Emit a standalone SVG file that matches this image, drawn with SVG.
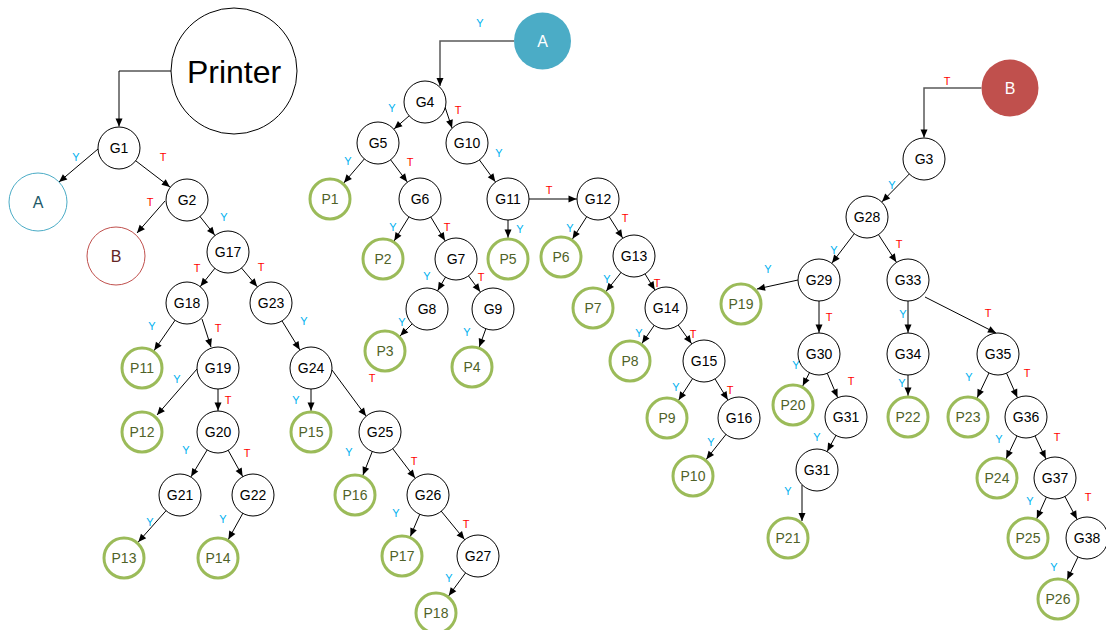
<svg xmlns="http://www.w3.org/2000/svg" width="1106" height="630" viewBox="0 0 1106 630">
<style>
  .g circle { fill: #fff; stroke: #000; stroke-width: 1; }
  .p circle { fill: #fff; stroke: #9bbb59; stroke-width: 3; }
  text { font-family: "Liberation Sans", Arial, sans-serif; text-anchor: middle; }
  .g text { font-size: 14px; fill: #000; }
  .p text { font-size: 14px; fill: #4f6228; }
  .lbl { font-size: 11px; }
  .y { fill: #00b0f0; }
  .t { fill: #ff0000; }
  #edges line, #edges path { stroke: #000; stroke-width: 1; fill: none; }
  #edges .elbow { stroke: #595959; stroke-width: 1.5; }
</style>
<defs>
  <!-- tip at the end point -->
  <marker id="ah" markerUnits="userSpaceOnUse" markerWidth="10" markerHeight="10" orient="auto" overflow="visible">
    <path d="M-8,-3.5 L0,0 L-8,3.5 Z" fill="#000"/>
  </marker>
  <!-- tip on the rim of a radius-21 node when the line ends at its centre -->
  <marker id="ah21" markerUnits="userSpaceOnUse" markerWidth="10" markerHeight="10" orient="auto" overflow="visible">
    <path d="M-29.5,-3.5 L-21.5,0 L-29.5,3.5 Z" fill="#000"/>
  </marker>
</defs>

<g id="edges">
  <!-- elbow connectors from the entry nodes -->
  <path d="M171,71 H119 V126.5" marker-end="url(#ah)"/>
  <path class="elbow" d="M514,41 H440 V86" marker-end="url(#ah)"/>
  <path class="elbow" d="M981.5,88 H924 V137.5" marker-end="url(#ah)"/>

  <!-- Printer subtree -->
  <line x1="98" y1="149" x2="59" y2="182" marker-end="url(#ah)"/>
  <line x1="119" y1="148" x2="187" y2="200" marker-end="url(#ah21)"/>
  <line x1="165" y1="201" x2="137" y2="233" marker-end="url(#ah)"/>
  <line x1="187" y1="200" x2="228" y2="252" marker-end="url(#ah21)"/>
  <line x1="228" y1="252" x2="187" y2="303" marker-end="url(#ah21)"/>
  <line x1="228" y1="252" x2="271" y2="303" marker-end="url(#ah21)"/>
  <line x1="187" y1="303" x2="142" y2="368" marker-end="url(#ah21)"/>
  <line x1="202" y1="319" x2="211" y2="347" marker-end="url(#ah)"/>
  <line x1="197" y1="369" x2="157" y2="415" marker-end="url(#ah)"/>
  <line x1="218" y1="368" x2="218" y2="432" marker-end="url(#ah21)"/>
  <line x1="218" y1="432" x2="180" y2="495" marker-end="url(#ah21)"/>
  <line x1="218" y1="432" x2="253" y2="495" marker-end="url(#ah21)"/>
  <line x1="180" y1="495" x2="124" y2="558" marker-end="url(#ah21)"/>
  <line x1="253" y1="495" x2="218" y2="558" marker-end="url(#ah21)"/>
  <line x1="271" y1="303" x2="311" y2="368" marker-end="url(#ah21)"/>
  <line x1="311" y1="368" x2="311" y2="432" marker-end="url(#ah21)"/>
  <line x1="332" y1="370" x2="366" y2="416" marker-end="url(#ah)"/>
  <line x1="380" y1="432" x2="355" y2="495" marker-end="url(#ah21)"/>
  <line x1="380" y1="432" x2="428" y2="495" marker-end="url(#ah21)"/>
  <line x1="428" y1="495" x2="402" y2="556" marker-end="url(#ah21)"/>
  <line x1="428" y1="495" x2="478" y2="556" marker-end="url(#ah21)"/>
  <line x1="478" y1="556" x2="436" y2="613" marker-end="url(#ah21)"/>

  <!-- A subtree -->
  <line x1="425" y1="102" x2="378" y2="143" marker-end="url(#ah21)"/>
  <line x1="445" y1="107" x2="452" y2="128" marker-end="url(#ah)"/>
  <line x1="378" y1="143" x2="330" y2="199" marker-end="url(#ah21)"/>
  <line x1="378" y1="143" x2="420" y2="199" marker-end="url(#ah21)"/>
  <line x1="467" y1="143" x2="508" y2="199" marker-end="url(#ah21)"/>
  <line x1="420" y1="199" x2="383" y2="259" marker-end="url(#ah21)"/>
  <line x1="420" y1="199" x2="456" y2="259" marker-end="url(#ah21)"/>
  <line x1="508" y1="199" x2="508" y2="259" marker-end="url(#ah21)"/>
  <line x1="508" y1="199" x2="598" y2="199" marker-end="url(#ah21)"/>
  <line x1="598" y1="199" x2="561" y2="257" marker-end="url(#ah21)"/>
  <line x1="598" y1="199" x2="634" y2="256" marker-end="url(#ah21)"/>
  <line x1="456" y1="259" x2="427" y2="309" marker-end="url(#ah21)"/>
  <line x1="456" y1="259" x2="493" y2="309" marker-end="url(#ah21)"/>
  <line x1="427" y1="309" x2="385" y2="351" marker-end="url(#ah21)"/>
  <line x1="493" y1="309" x2="472" y2="367" marker-end="url(#ah21)"/>
  <line x1="634" y1="256" x2="593" y2="308" marker-end="url(#ah21)"/>
  <line x1="634" y1="256" x2="666" y2="308" marker-end="url(#ah21)"/>
  <line x1="666" y1="308" x2="630" y2="361" marker-end="url(#ah21)"/>
  <line x1="666" y1="308" x2="704" y2="361" marker-end="url(#ah21)"/>
  <line x1="704" y1="361" x2="667" y2="418" marker-end="url(#ah21)"/>
  <line x1="704" y1="361" x2="739" y2="418" marker-end="url(#ah21)"/>
  <line x1="739" y1="418" x2="693" y2="476" marker-end="url(#ah21)"/>

  <!-- B subtree -->
  <line x1="924" y1="159" x2="867" y2="217" marker-end="url(#ah21)"/>
  <line x1="867" y1="217" x2="819" y2="280" marker-end="url(#ah21)"/>
  <line x1="867" y1="217" x2="908" y2="280" marker-end="url(#ah21)"/>
  <line x1="798" y1="280" x2="757" y2="289" marker-end="url(#ah)"/>
  <line x1="819" y1="280" x2="819" y2="354" marker-end="url(#ah21)"/>
  <line x1="908" y1="280" x2="908" y2="354" marker-end="url(#ah21)"/>
  <line x1="925" y1="297" x2="996" y2="333" marker-end="url(#ah)"/>
  <line x1="819" y1="354" x2="793" y2="405" marker-end="url(#ah21)"/>
  <line x1="819" y1="354" x2="846" y2="417" marker-end="url(#ah21)"/>
  <line x1="846" y1="417" x2="817" y2="470" marker-end="url(#ah21)"/>
  <line x1="802" y1="485" x2="802" y2="521" marker-end="url(#ah)"/>
  <line x1="908" y1="354" x2="908" y2="417" marker-end="url(#ah21)"/>
  <line x1="998" y1="354" x2="968" y2="417" marker-end="url(#ah21)"/>
  <line x1="998" y1="354" x2="1026" y2="417" marker-end="url(#ah21)"/>
  <line x1="1026" y1="417" x2="997" y2="478" marker-end="url(#ah21)"/>
  <line x1="1026" y1="417" x2="1055" y2="478" marker-end="url(#ah21)"/>
  <line x1="1055" y1="478" x2="1028" y2="538" marker-end="url(#ah21)"/>
  <line x1="1055" y1="478" x2="1087" y2="538" marker-end="url(#ah21)"/>
  <line x1="1087" y1="538" x2="1058" y2="599" marker-end="url(#ah21)"/>
</g>

<g id="edge-labels" class="lbl">
  <text class="y" x="76" y="161">Y</text>
  <text class="t" x="163" y="161">T</text>
  <text class="t" x="150" y="206">T</text>
  <text class="y" x="224" y="221">Y</text>
  <text class="t" x="197" y="272">T</text>
  <text class="t" x="261" y="271">T</text>
  <text class="y" x="152" y="330">Y</text>
  <text class="t" x="218" y="332">T</text>
  <text class="y" x="304" y="325">Y</text>
  <text class="y" x="177" y="383">Y</text>
  <text class="t" x="228" y="404">T</text>
  <text class="y" x="296" y="404">Y</text>
  <text class="y" x="186" y="454">Y</text>
  <text class="t" x="247" y="457">T</text>
  <text class="y" x="150" y="526">Y</text>
  <text class="y" x="223" y="523">Y</text>
  <text class="y" x="402" y="326">Y</text>
  <text class="y" x="467" y="336">Y</text>
  <text class="t" x="372" y="382">T</text>
  <text class="y" x="349" y="456">Y</text>
  <text class="t" x="414" y="465">T</text>
  <text class="y" x="396" y="517">Y</text>
  <text class="t" x="466" y="528">T</text>
  <text class="y" x="449" y="582">Y</text>
  <text class="y" x="480" y="27">Y</text>
  <text class="y" x="392" y="112">Y</text>
  <text class="t" x="458" y="114">T</text>
  <text class="y" x="348" y="165">Y</text>
  <text class="t" x="410" y="166">T</text>
  <text class="y" x="499" y="157">Y</text>
  <text class="t" x="549" y="194">T</text>
  <text class="y" x="393" y="231">Y</text>
  <text class="t" x="447" y="231">T</text>
  <text class="y" x="520" y="233">Y</text>
  <text class="y" x="570" y="232">Y</text>
  <text class="y" x="427" y="280">Y</text>
  <text class="t" x="481" y="281">T</text>
  <text class="t" x="625" y="222">T</text>
  <text class="y" x="607" y="283">Y</text>
  <text class="t" x="657" y="287">T</text>
  <text class="y" x="639" y="337">Y</text>
  <text class="t" x="693" y="338">T</text>
  <text class="y" x="676" y="391">Y</text>
  <text class="t" x="730" y="394">T</text>
  <text class="y" x="711" y="446">Y</text>
  <text class="y" x="768" y="273">Y</text>
  <text class="t" x="947" y="85">T</text>
  <text class="y" x="892" y="189">Y</text>
  <text class="y" x="834" y="254">Y</text>
  <text class="t" x="899" y="248">T</text>
  <text class="t" x="829" y="321">T</text>
  <text class="y" x="903" y="318">Y</text>
  <text class="t" x="988" y="317">T</text>
  <text class="y" x="796" y="369">Y</text>
  <text class="t" x="851" y="385">T</text>
  <text class="y" x="817" y="441">Y</text>
  <text class="y" x="788" y="495">Y</text>
  <text class="y" x="902" y="387">Y</text>
  <text class="y" x="969" y="381">Y</text>
  <text class="t" x="1027" y="377">T</text>
  <text class="y" x="999" y="443">Y</text>
  <text class="t" x="1057" y="441">T</text>
  <text class="y" x="1030" y="505">Y</text>
  <text class="t" x="1088" y="501">T</text>
  <text class="y" x="1054" y="571">Y</text>
</g>

<!-- entry nodes -->
<g id="Printer"><circle cx="234" cy="71" r="63" fill="#fff" stroke="#000" stroke-width="1"/><text x="234" y="83" font-size="32">Printer</text></g>
<g id="A-out"><circle cx="38" cy="202" r="29" fill="#fff" stroke="#4bacc6" stroke-width="1"/><text x="38" y="208" font-size="16" fill="#215968">A</text></g>
<g id="B-out"><circle cx="116" cy="256" r="29" fill="#fff" stroke="#c0504d" stroke-width="1"/><text x="116" y="262" font-size="16" fill="#632523">B</text></g>
<g id="A-in"><circle cx="542.5" cy="41" r="28.5" fill="#4bacc6"/><text x="542.5" y="47" font-size="16" fill="#fff">A</text></g>
<g id="B-in"><circle cx="1010" cy="88" r="28.5" fill="#c0504d"/><text x="1010" y="94" font-size="16" fill="#fff">B</text></g>

<!-- decision nodes -->
<g id="G1" class="g"><circle cx="119" cy="148" r="21"/><text x="119" y="153">G1</text></g>
<g id="G2" class="g"><circle cx="187" cy="200" r="21"/><text x="187" y="205">G2</text></g>
<g id="G17" class="g"><circle cx="228" cy="252" r="21"/><text x="228" y="257">G17</text></g>
<g id="G18" class="g"><circle cx="187" cy="303" r="21"/><text x="187" y="308">G18</text></g>
<g id="G23" class="g"><circle cx="271" cy="303" r="21"/><text x="271" y="308">G23</text></g>
<g id="G19" class="g"><circle cx="218" cy="368" r="21"/><text x="218" y="373">G19</text></g>
<g id="G20" class="g"><circle cx="218" cy="432" r="21"/><text x="218" y="437">G20</text></g>
<g id="G21" class="g"><circle cx="180" cy="495" r="21"/><text x="180" y="500">G21</text></g>
<g id="G22" class="g"><circle cx="253" cy="495" r="21"/><text x="253" y="500">G22</text></g>
<g id="G24" class="g"><circle cx="311" cy="368" r="21"/><text x="311" y="373">G24</text></g>
<g id="G25" class="g"><circle cx="380" cy="432" r="21"/><text x="380" y="437">G25</text></g>
<g id="G26" class="g"><circle cx="428" cy="495" r="21"/><text x="428" y="500">G26</text></g>
<g id="G27" class="g"><circle cx="478" cy="556" r="21"/><text x="478" y="561">G27</text></g>
<g id="G4" class="g"><circle cx="425" cy="102" r="21"/><text x="425" y="107">G4</text></g>
<g id="G5" class="g"><circle cx="378" cy="143" r="21"/><text x="378" y="148">G5</text></g>
<g id="G10" class="g"><circle cx="467" cy="143" r="21"/><text x="467" y="148">G10</text></g>
<g id="G6" class="g"><circle cx="420" cy="199" r="21"/><text x="420" y="204">G6</text></g>
<g id="G11" class="g"><circle cx="508" cy="199" r="21"/><text x="508" y="204">G11</text></g>
<g id="G12" class="g"><circle cx="598" cy="199" r="21"/><text x="598" y="204">G12</text></g>
<g id="G7" class="g"><circle cx="456" cy="259" r="21"/><text x="456" y="264">G7</text></g>
<g id="G8" class="g"><circle cx="427" cy="309" r="21"/><text x="427" y="314">G8</text></g>
<g id="G9" class="g"><circle cx="493" cy="309" r="21"/><text x="493" y="314">G9</text></g>
<g id="G13" class="g"><circle cx="634" cy="256" r="21"/><text x="634" y="261">G13</text></g>
<g id="G14" class="g"><circle cx="666" cy="308" r="21"/><text x="666" y="313">G14</text></g>
<g id="G15" class="g"><circle cx="704" cy="361" r="21"/><text x="704" y="366">G15</text></g>
<g id="G16" class="g"><circle cx="739" cy="418" r="21"/><text x="739" y="423">G16</text></g>
<g id="G3" class="g"><circle cx="924" cy="159" r="21"/><text x="924" y="164">G3</text></g>
<g id="G28" class="g"><circle cx="867" cy="217" r="21"/><text x="867" y="222">G28</text></g>
<g id="G29" class="g"><circle cx="819" cy="280" r="21"/><text x="819" y="285">G29</text></g>
<g id="G33" class="g"><circle cx="908" cy="280" r="21"/><text x="908" y="285">G33</text></g>
<g id="G30" class="g"><circle cx="819" cy="354" r="21"/><text x="819" y="359">G30</text></g>
<g id="G34" class="g"><circle cx="908" cy="354" r="21"/><text x="908" y="359">G34</text></g>
<g id="G35" class="g"><circle cx="998" cy="354" r="21"/><text x="998" y="359">G35</text></g>
<g id="G31" class="g"><circle cx="846" cy="417" r="21"/><text x="846" y="422">G31</text></g>
<g id="G31-b" class="g"><circle cx="817" cy="470" r="21"/><text x="817" y="475">G31</text></g>
<g id="G36" class="g"><circle cx="1026" cy="417" r="21"/><text x="1026" y="422">G36</text></g>
<g id="G37" class="g"><circle cx="1055" cy="478" r="21"/><text x="1055" y="483">G37</text></g>
<g id="G38" class="g"><circle cx="1087" cy="538" r="21"/><text x="1087" y="543">G38</text></g>

<!-- outcome nodes -->
<g id="P1" class="p"><circle cx="330" cy="199" r="20"/><text x="330" y="204">P1</text></g>
<g id="P2" class="p"><circle cx="383" cy="259" r="20"/><text x="383" y="264">P2</text></g>
<g id="P3" class="p"><circle cx="385" cy="351" r="20"/><text x="385" y="356">P3</text></g>
<g id="P4" class="p"><circle cx="472" cy="367" r="20"/><text x="472" y="372">P4</text></g>
<g id="P5" class="p"><circle cx="508" cy="259" r="20"/><text x="508" y="264">P5</text></g>
<g id="P6" class="p"><circle cx="561" cy="257" r="20"/><text x="561" y="262">P6</text></g>
<g id="P7" class="p"><circle cx="593" cy="308" r="20"/><text x="593" y="313">P7</text></g>
<g id="P8" class="p"><circle cx="630" cy="361" r="20"/><text x="630" y="366">P8</text></g>
<g id="P9" class="p"><circle cx="667" cy="418" r="20"/><text x="667" y="423">P9</text></g>
<g id="P10" class="p"><circle cx="693" cy="476" r="20"/><text x="693" y="481">P10</text></g>
<g id="P11" class="p"><circle cx="142" cy="368" r="20"/><text x="142" y="373">P11</text></g>
<g id="P12" class="p"><circle cx="142" cy="432" r="20"/><text x="142" y="437">P12</text></g>
<g id="P13" class="p"><circle cx="124" cy="558" r="20"/><text x="124" y="563">P13</text></g>
<g id="P14" class="p"><circle cx="218" cy="558" r="20"/><text x="218" y="563">P14</text></g>
<g id="P15" class="p"><circle cx="311" cy="432" r="20"/><text x="311" y="437">P15</text></g>
<g id="P16" class="p"><circle cx="355" cy="495" r="20"/><text x="355" y="500">P16</text></g>
<g id="P17" class="p"><circle cx="402" cy="556" r="20"/><text x="402" y="561">P17</text></g>
<g id="P18" class="p"><circle cx="436" cy="613" r="20"/><text x="436" y="618">P18</text></g>
<g id="P19" class="p"><circle cx="741" cy="304" r="20"/><text x="741" y="309">P19</text></g>
<g id="P20" class="p"><circle cx="793" cy="405" r="20"/><text x="793" y="410">P20</text></g>
<g id="P21" class="p"><circle cx="788" cy="538" r="20"/><text x="788" y="543">P21</text></g>
<g id="P22" class="p"><circle cx="908" cy="417" r="20"/><text x="908" y="422">P22</text></g>
<g id="P23" class="p"><circle cx="968" cy="417" r="20"/><text x="968" y="422">P23</text></g>
<g id="P24" class="p"><circle cx="997" cy="478" r="20"/><text x="997" y="483">P24</text></g>
<g id="P25" class="p"><circle cx="1028" cy="538" r="20"/><text x="1028" y="543">P25</text></g>
<g id="P26" class="p"><circle cx="1058" cy="599" r="20"/><text x="1058" y="604">P26</text></g>
</svg>
